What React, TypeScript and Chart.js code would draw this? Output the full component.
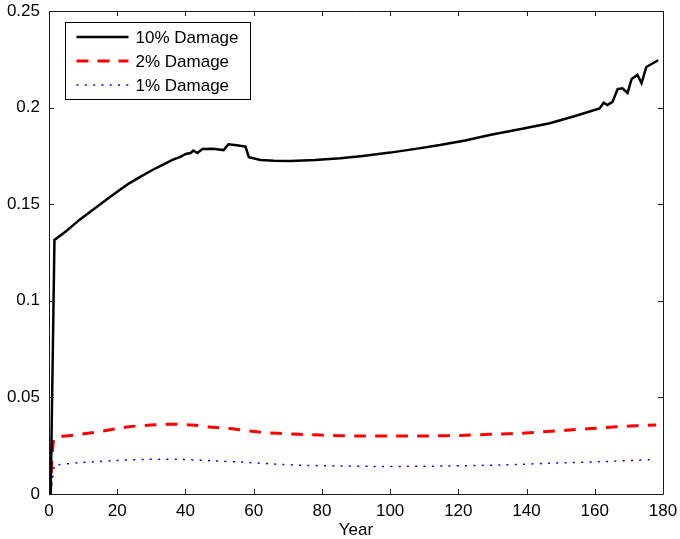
import { useEffect, useRef } from "react";
import { Chart, registerables } from "chart.js";

Chart.register(...registerables);

const FONT = '"Liberation Sans", Arial, Helvetica, sans-serif';

const seriesLabels = ["10% Damage", "2% Damage", "1% Damage"];

const xTicks = [0, 20, 40, 60, 80, 100, 120, 140, 160, 180];
const yTicks = [0, 0.05, 0.1, 0.15, 0.2, 0.25];

const blackYears = [0.5, 1.6, 5, 9, 12, 16.7, 20, 23.5, 27, 30.3, 33, 36.2, 38.5, 40.1, 41.5, 42.3, 43.5, 45, 48, 51.2, 52.6, 55, 57.6, 58.6, 62, 66, 70.8, 78, 85.4, 92, 100, 107, 114.6, 122, 129.2, 138, 146.8, 154, 161.4, 162.6, 163.7, 165.2, 166.7, 168.1, 169.6, 170.8, 172.5, 173.7, 175.1, 178.6];
const blackValues = [0.0, 0.1315, 0.136, 0.142, 0.146, 0.1522, 0.1564, 0.1608, 0.1644, 0.1677, 0.1701, 0.1729, 0.1745, 0.176, 0.1765, 0.1778, 0.1765, 0.1786, 0.1787, 0.178, 0.181, 0.1805, 0.1798, 0.1743, 0.1729, 0.1725, 0.1724, 0.1729, 0.1738, 0.175, 0.1767, 0.1785, 0.1806, 0.183, 0.1858, 0.1888, 0.1919, 0.1955, 0.1996, 0.2025, 0.2013, 0.203, 0.2096, 0.21, 0.2076, 0.2148, 0.2169, 0.2127, 0.221, 0.2245];

const redYears = [0.4, 1.2, 2, 5, 11.3, 17.6, 23.5, 29.8, 35.7, 42, 48.3, 54.7, 60, 66.9, 73.2, 79.5, 85.4, 91.7, 98, 104.4, 110.2, 116.6, 122, 129.2, 135, 140.9, 146, 152.6, 159, 166.3, 172, 178];
const redValues = [0, 0.026, 0.0293, 0.03, 0.0314, 0.0331, 0.0348, 0.0357, 0.0361, 0.0357, 0.0345, 0.0335, 0.0323, 0.0314, 0.0309, 0.0305, 0.0302, 0.03, 0.03, 0.03, 0.03, 0.0302, 0.0304, 0.0309, 0.0312, 0.0317, 0.0323, 0.0331, 0.0339, 0.0348, 0.0353, 0.0357];

const blueYears = [0.4, 1.0, 1.6, 2, 8.9, 18.6, 28.4, 33, 38.1, 47.9, 56.6, 65.9, 75.6, 85.4, 95, 104.9, 116.6, 132, 146.8, 161.4, 177];
const blueValues = [0, 0.007, 0.0148, 0.015, 0.0162, 0.0172, 0.0179, 0.018, 0.0179, 0.0172, 0.0165, 0.0155, 0.0148, 0.0145, 0.0143, 0.0143, 0.0145, 0.015, 0.0159, 0.0167, 0.0178];

const toPoints = (xs: number[], ys: number[]) => xs.map((x, i) => ({ x, y: ys[i] }));

export default function App() {
  const ref = useRef<HTMLCanvasElement>(null);

  useEffect(() => {
    const canvas = ref.current;
    if (!canvas) return;

    const framePlugin = {
      id: "frameAndLegend",
      afterDatasetsDraw(chart: any) {
        const { ctx, chartArea } = chart;
        const { left, right, top, bottom } = chartArea;
        const xs = chart.scales.x;
        const ys = chart.scales.y;
        ctx.save();
        ctx.strokeStyle = "#1a1a1a";
        ctx.lineWidth = 1;
        ctx.setLineDash([]);
        ctx.beginPath();
        ctx.rect(Math.round(left) + 0.5, Math.round(top) + 0.5, Math.round(right - left), Math.round(bottom - top));
        ctx.stroke();
        const tl = 5;
        ctx.beginPath();
        xTicks.forEach((v) => {
          const px = Math.round(xs.getPixelForValue(v)) + 0.5;
          ctx.moveTo(px, bottom);
          ctx.lineTo(px, bottom - tl);
          ctx.moveTo(px, top);
          ctx.lineTo(px, top + tl);
        });
        yTicks.forEach((v) => {
          const py = Math.round(ys.getPixelForValue(v)) + 0.5;
          ctx.moveTo(left, py);
          ctx.lineTo(left + tl, py);
          ctx.moveTo(right, py);
          ctx.lineTo(right - tl, py);
        });
        ctx.stroke();

        // legend box
        const bx = Math.round(left + 16) + 0.5;
        const by = Math.round(top + 11) + 0.5;
        const bw = 185;
        const bh = 77;
        ctx.fillStyle = "#fff";
        ctx.fillRect(bx, by, bw, bh);
        ctx.strokeStyle = "#000";
        ctx.lineWidth = 1;
        ctx.strokeRect(bx, by, bw, bh);
        ctx.font = `17px ${FONT}`;
        ctx.textBaseline = "middle";
        ctx.textAlign = "left";
        chart.data.datasets.forEach((ds: any, i: number) => {
          const ry = by + 14.5 + i * 24;
          ctx.save();
          ctx.strokeStyle = ds.borderColor;
          ctx.lineWidth = ds.borderWidth;
          ctx.setLineDash(ds.borderDash || []);
          ctx.beginPath();
          ctx.moveTo(bx + 11, ry);
          ctx.lineTo(bx + 63, ry);
          ctx.stroke();
          ctx.restore();
          ctx.fillStyle = "#000";
          ctx.fillText(ds.label, bx + 70, ry + 1);
        });
        ctx.restore();
      },
    };

    const chart = new Chart(canvas, {
      type: "line",
      data: {
        datasets: [
          {
            label: seriesLabels[0],
            data: toPoints(blackYears, blackValues),
            borderColor: "#000000",
            borderWidth: 2.5,
            pointRadius: 0,
            tension: 0,
          },
          {
            label: seriesLabels[1],
            data: toPoints(redYears, redValues),
            borderColor: "#ff0000",
            borderWidth: 3,
            borderDash: [12, 9],
            pointRadius: 0,
            tension: 0.3,
          },
          {
            label: seriesLabels[2],
            data: toPoints(blueYears, blueValues),
            borderColor: "#0000ff",
            borderWidth: 1.5,
            borderDash: [2, 6.3],
            pointRadius: 0,
            tension: 0.3,
          },
        ],
      },
      options: {
        animation: false,
        responsive: false,
        devicePixelRatio: 1,
        layout: { padding: { left: 0, right: 17, top: 11, bottom: 0 } },
        plugins: { legend: { display: false }, tooltip: { enabled: false } },
        scales: {
          x: {
            type: "linear",
            min: 0,
            max: 180,
            afterFit: (s: any) => {
              s.height = 45;
              s.paddingLeft = 0;
              s.paddingRight = 0;
            },
            afterBuildTicks: (s: any) => {
              s.ticks = xTicks.map((v) => ({ value: v }));
            },
            grid: { display: false, drawTicks: false },
            border: { display: false },
            ticks: {
              padding: 7,
              color: "#000",
              font: { family: FONT, size: 17 },
              maxRotation: 0,
              callback: (v: any) => String(v),
            },
            title: {
              display: true,
              text: "Year",
              color: "#000",
              font: { family: FONT, size: 17, lineHeight: 1 },
              padding: { top: 0, bottom: 0 },
            },
          },
          y: {
            type: "linear",
            min: 0,
            max: 0.25,
            afterFit: (s: any) => {
              s.width = 49;
              s.paddingTop = 0;
              s.paddingBottom = 0;
            },
            afterBuildTicks: (s: any) => {
              s.ticks = yTicks.map((v) => ({ value: v }));
            },
            grid: { display: false, drawTicks: false },
            border: { display: false },
            ticks: {
              padding: 9,
              color: "#000",
              font: { family: FONT, size: 17 },
              callback: (v: any) => String(+Number(v).toFixed(2)),
            },
          },
        },
      },
      plugins: [framePlugin],
    });

    return () => chart.destroy();
  }, []);

  return (
    <div style={{ position: "absolute", left: 0, top: 0, width: 680, height: 539, background: "#fff" }}>
      <canvas ref={ref} width={680} height={539} style={{ display: "block", width: 680, height: 539 }} />
    </div>
  );
}
